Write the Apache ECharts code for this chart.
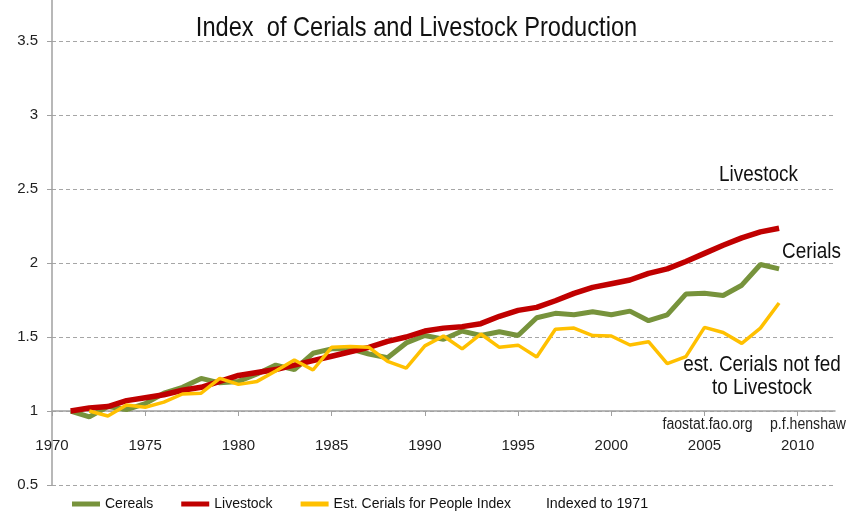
<!DOCTYPE html>
<html>
<head>
<meta charset="utf-8">
<script src="https://cdn.jsdelivr.net/npm/echarts@6/dist/echarts.min.js"></script>
<style>html,body{margin:0;padding:0;background:#fff}#c{width:849px;height:521px}</style>
</head>
<body>
<div id="c"></div>
<script>
const years = [1971,1972,1973,1974,1975,1976,1977,1978,1979,1980,1981,1982,1983,1984,1985,1986,1987,1988,1989,1990,1991,1992,1993,1994,1995,1996,1997,1998,1999,2000,2001,2002,2003,2004,2005,2006,2007,2008,2009];
const cereals = [1.00,0.96,1.03,1.01,1.05,1.12,1.16,1.22,1.19,1.20,1.25,1.31,1.28,1.39,1.42,1.42,1.385,1.36,1.46,1.51,1.485,1.54,1.51,1.535,1.51,1.63,1.66,1.65,1.67,1.65,1.675,1.61,1.65,1.79,1.795,1.78,1.85,1.99,1.96];
const livestock = [1.00,1.02,1.03,1.07,1.09,1.11,1.14,1.16,1.20,1.24,1.26,1.28,1.31,1.34,1.37,1.40,1.43,1.47,1.50,1.54,1.56,1.57,1.59,1.64,1.68,1.70,1.745,1.795,1.835,1.86,1.885,1.93,1.96,2.01,2.065,2.12,2.17,2.21,2.235];
const people = [null,1.00,0.966,1.04,1.025,1.06,1.115,1.12,1.22,1.18,1.20,1.27,1.345,1.277,1.43,1.435,1.43,1.335,1.29,1.44,1.507,1.42,1.52,1.43,1.445,1.365,1.553,1.56,1.51,1.507,1.446,1.468,1.32,1.367,1.565,1.53,1.457,1.56,1.73];
const xTicks = [1970,1975,1980,1985,1990,1995,2000,2005,2010];
const seriesNames = ['Cereals','Livestock','Est. Cerials for People Index'];
const seriesColors = ['#77933C','#C00000','#FFC000'];

const FONT = '"Liberation Sans",Arial,sans-serif';
const pair = arr => years.map((y,i)=>[y,arr[i]]);
const chart = echarts.init(document.getElementById('c'), null, {renderer:'canvas'});

function label(text, x, y, size, sx, fill){
  return {type:'text', x:x, y:y, scaleX:sx, silent:true, z:100,
    style:{text:text, x:0, y:0, font:size+'px '+FONT, fill:fill||'#111', align:'center', verticalAlign:'middle'}};
}

chart.setOption({
  animation:false,
  textStyle:{fontFamily:FONT},
  grid:{left:52,right:14,top:0,bottom:36,containLabel:false},
  xAxis:{
    type:'value',min:1970,max:2012,offset:-74,
    axisLine:{show:true,onZero:false,lineStyle:{color:'#A0A0A0',width:1.5}},
    axisTick:{show:true,length:5,customValues:xTicks,lineStyle:{color:'#A0A0A0'}},
    axisLabel:{customValues:xTicks,margin:27,fontSize:15,color:'#222',fontFamily:FONT,formatter:v=>String(v)},
    splitLine:{show:false}
  },
  yAxis:{
    type:'value',min:0.5,max:3.777,interval:0.5,
    axisLine:{show:true,lineStyle:{color:'#A0A0A0',width:1.5}},
    axisTick:{show:true,length:5,lineStyle:{color:'#A0A0A0'}},
    axisLabel:{fontSize:15,color:'#222',margin:14,fontFamily:FONT,showMaxLabel:false,
      formatter:v=>(Math.abs(v*2-Math.round(v*2))<1e-6)?String(v):''},
    splitLine:{show:true,showMaxLine:false,lineStyle:{color:'#A6A6A6',type:[4,3],width:1}}
  },
  legend:{
    left:72,top:497,padding:0,itemWidth:28,itemHeight:5,itemGap:28,icon:'rect',
    textStyle:{fontSize:14,color:'#111',fontFamily:FONT},
    data:seriesNames
  },
  series:[
    {name:seriesNames[0],type:'line',data:pair(cereals),showSymbol:false,color:seriesColors[0],lineStyle:{width:5,color:seriesColors[0]},z:2},
    {name:seriesNames[1],type:'line',data:pair(livestock),showSymbol:false,color:seriesColors[1],lineStyle:{width:5.5,color:seriesColors[1]},z:3},
    {name:seriesNames[2],type:'line',data:pair(people),showSymbol:false,connectNulls:false,color:seriesColors[2],lineStyle:{width:3.5,color:seriesColors[2]},z:4}
  ],
  graphic:[
    label('Index  of Cerials and Livestock Production', 416.5, 28.5, 28, 0.844, '#111'),
    label('Livestock', 758.5, 174.6, 22, 0.86, '#111'),
    label('Cerials', 811.5, 252.3, 22, 0.86, '#111'),
    label('est. Cerials not fed', 762, 365.3, 22, 0.86, '#111'),
    label('to Livestock', 762, 388.3, 22, 0.86, '#111'),
    label('faostat.fao.org', 707.5, 425, 16, 0.88, '#222'),
    label('p.f.henshaw', 808, 425, 16, 0.88, '#222'),
    label('Indexed to 1971', 597, 504, 15, 0.95, '#111')
  ]
});
</script>
</body>
</html>
